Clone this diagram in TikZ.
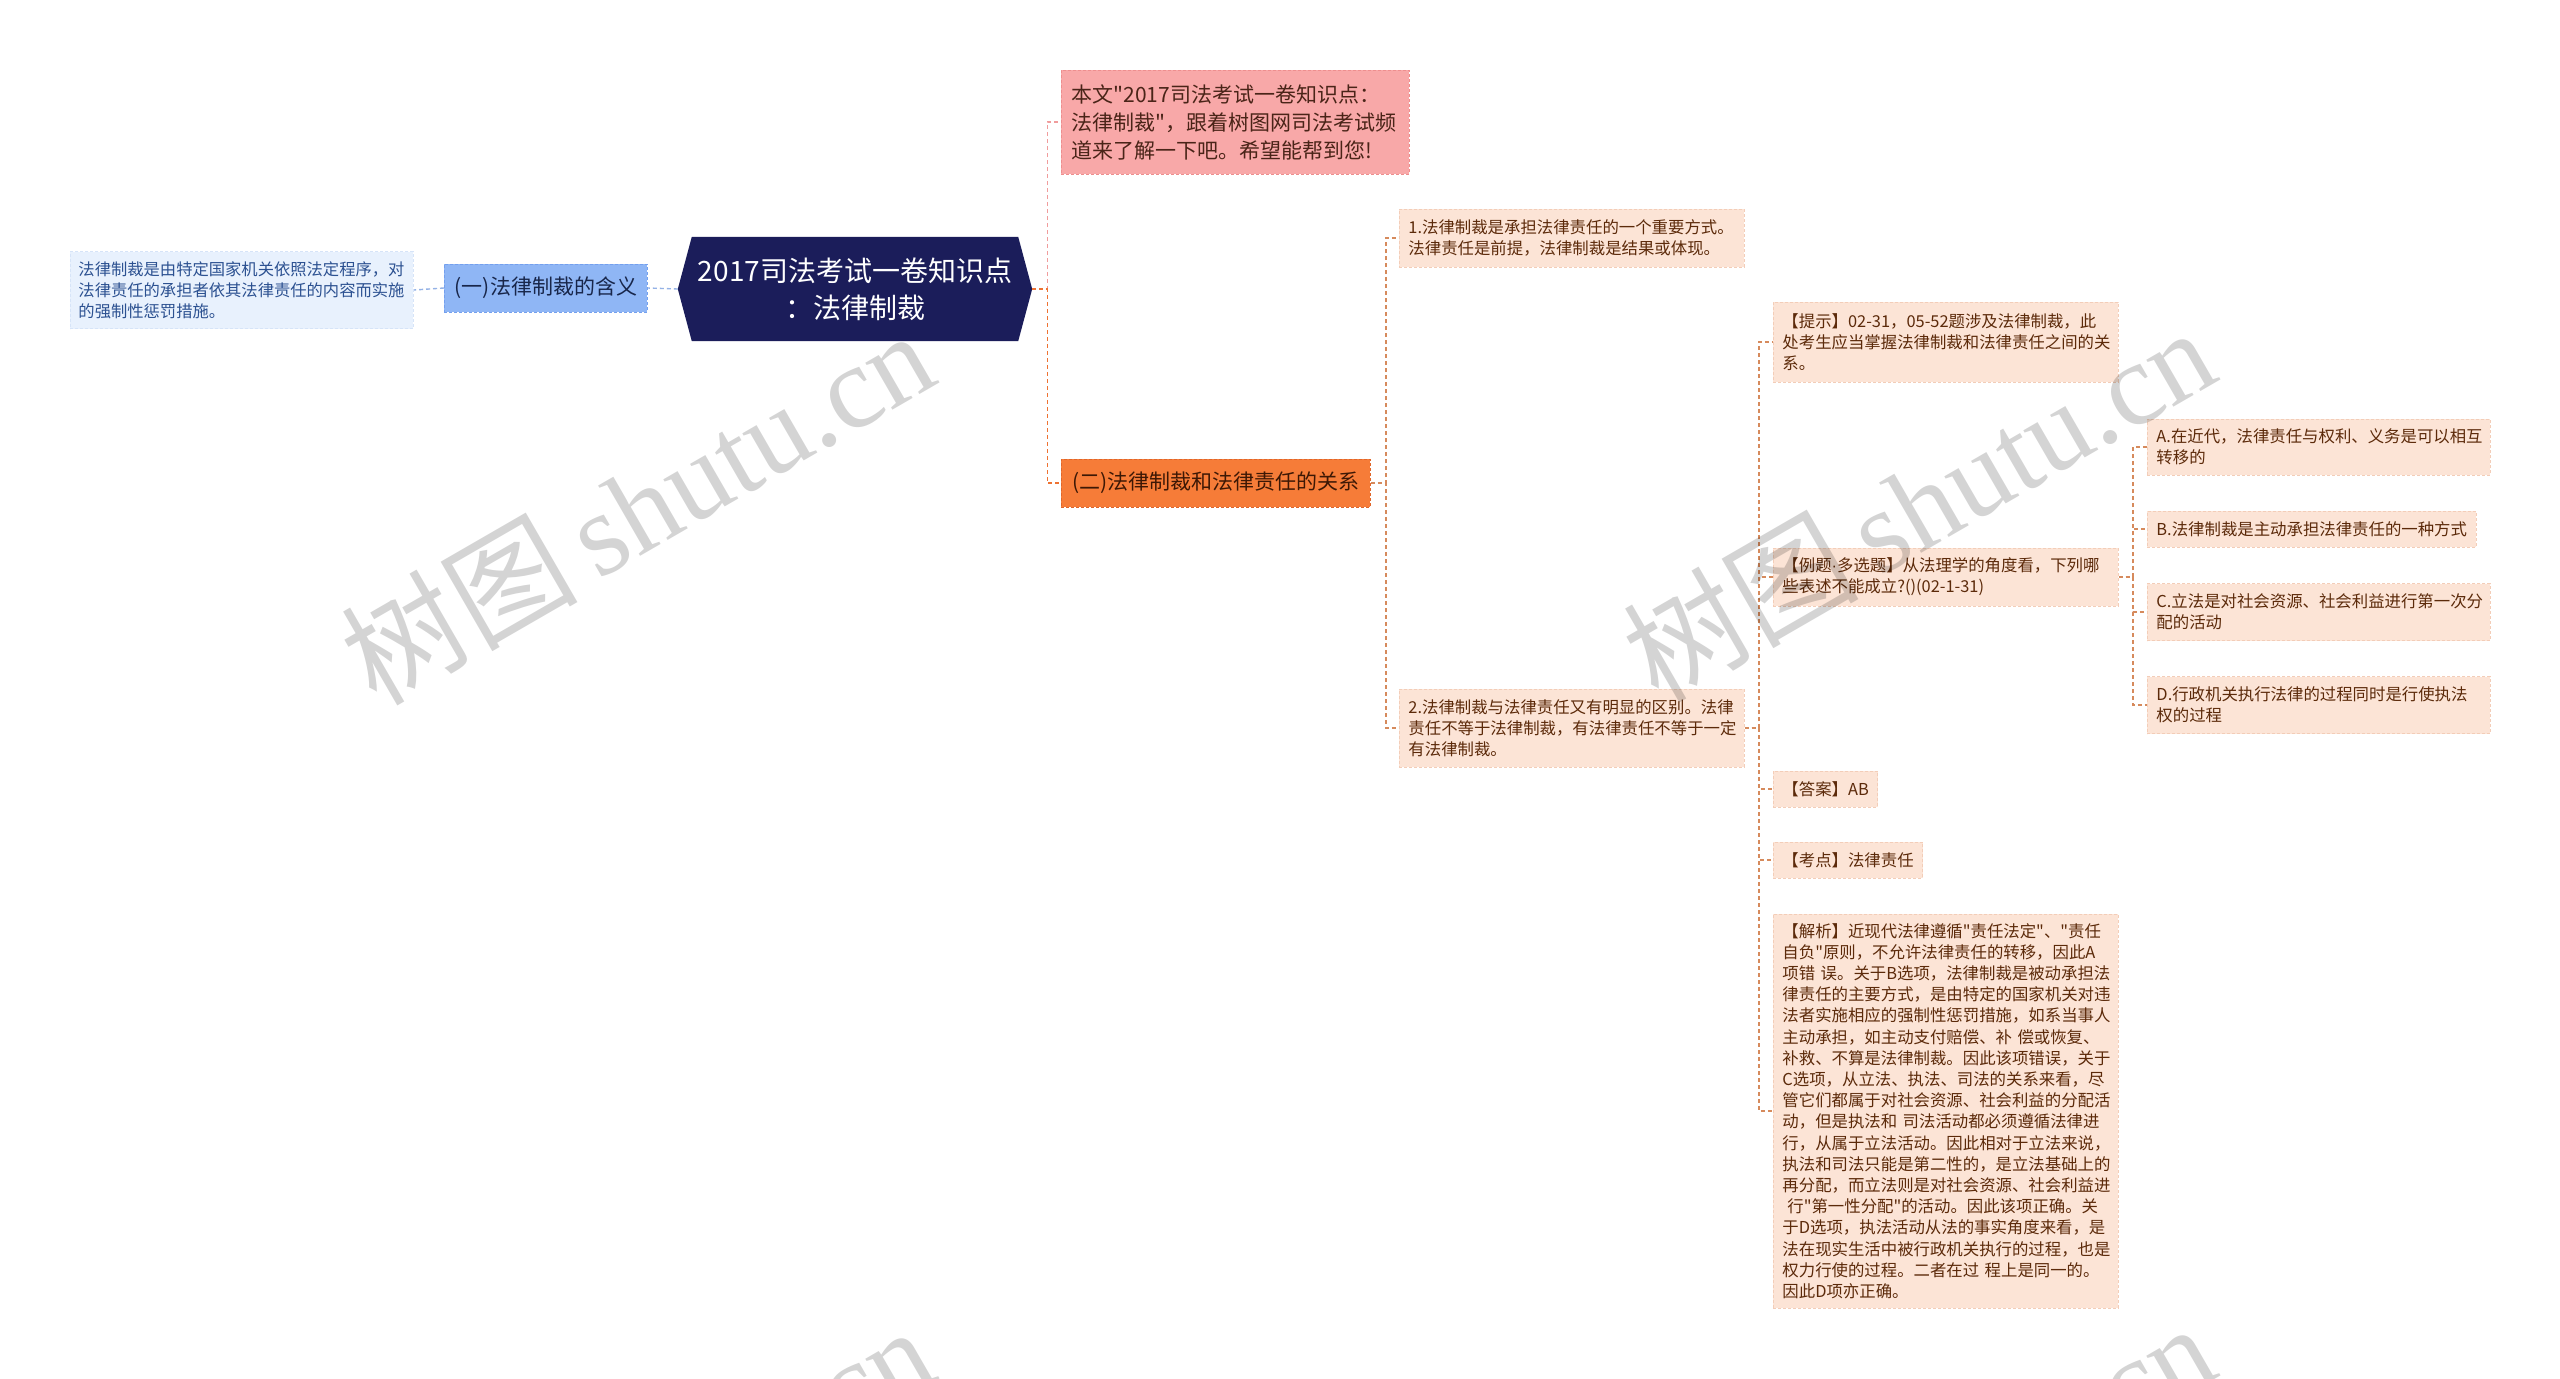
\documentclass[tikz,border=0pt]{standalone}
\usepackage{fontspec}
\setmainfont{Noto Sans CJK SC}
\newfontfamily\cjk{Noto Sans CJK SC}[Ligatures=TeXOff]
\newfontfamily\wmlatin{Liberation Serif}
\newfontfamily\lsans{Liberation Sans}
\usetikzlibrary{calc,backgrounds}
\definecolor{navyF}{HTML}{1B1D5A}
\definecolor{peachF}{HTML}{FCE4D6}
\definecolor{peachD}{HTML}{F3CDB8}
\definecolor{peachT}{HTML}{5C2A0A}
\definecolor{pinkF}{HTML}{F8A8A8}
\definecolor{pinkD}{HTML}{EE8E8E}
\definecolor{pinkT}{HTML}{4A2418}
\definecolor{orangeF}{HTML}{F67C38}
\definecolor{orangeD}{HTML}{E0662A}
\definecolor{orangeT}{HTML}{3D1805}
\definecolor{blueF}{HTML}{8FB6F5}
\definecolor{blueD}{HTML}{74A0EE}
\definecolor{blueT}{HTML}{18264A}
\definecolor{lblueF}{HTML}{E8F1FD}
\definecolor{lblueD}{HTML}{D6E4F8}
\definecolor{lblueT}{HTML}{2C5191}
\definecolor{cBlue}{HTML}{94B2E6}
\definecolor{cPink}{HTML}{F09C9C}
\definecolor{cOrange}{HTML}{EE7232}
\definecolor{cTan}{HTML}{D68A5C}
\tikzset{
  box/.style={draw, dash pattern=on 3pt off 2pt, line width=0.9pt, align=left, anchor=west, inner ysep=0pt},
  peach/.style={box, fill=peachF, draw=peachD, text=peachT, inner xsep=9pt, font=\cjk\fontsize{16.4}{21.2}\selectfont},
  peachw/.style={peach, text width=327pt},
  pinkbox/.style={box, fill=pinkF, draw=pinkD, text=pinkT, inner xsep=10pt, text width=328pt, font=\cjk\fontsize{21}{28}\selectfont},
  orangebox/.style={box, fill=orangeF, draw=orangeD, text=orangeT, inner xsep=8pt, align=center, font=\cjk\fontsize{21}{28}\selectfont},
  bluebox/.style={box, fill=blueF, draw=blueD, text=blueT, inner xsep=6pt, align=center, font=\cjk\fontsize{21}{28}\selectfont},
  lbluebox/.style={box, fill=lblueF, draw=lblueD, text=lblueT, inner xsep=8pt, text width=327pt, font=\cjk\fontsize{16.3}{21}\selectfont},
  rootbox/.style={text=white, align=center, inner sep=0pt, font=\cjk\fontsize{28}{37}\selectfont},
  conn/.style={line width=1.4pt, dash pattern=on 4pt off 3pt},
  wm/.style={text=black, text opacity=0.17, rotate=30, inner sep=0pt, font=\cjk\fontsize{118}{118}\selectfont}
}
\begin{document}
\begin{tikzpicture}[x=1pt,y=-1pt]
\useasboundingbox (0,0) rectangle (2560,1379);
\begin{scope}[on background layer]
\fill[white] (0,0) rectangle (2560,1379);
\end{scope}

% root
\node[rootbox, minimum width=354pt, minimum height=104pt] (root) at (855,289) {2017司法考试一卷知识点\\：法律制裁};
\begin{scope}[on background layer]
\fill[navyF] (root.west) -- ([xshift=14pt]root.north west) -- ([xshift=-14pt]root.north east) -- (root.east) -- ([xshift=-14pt]root.south east) -- ([xshift=14pt]root.south west) -- cycle;
\end{scope}

% left branch
\node[bluebox, minimum width=203pt, minimum height=48pt] (yi) at (444,288) {(一)法律制裁的含义};
\node[lbluebox, minimum height=77pt] (left) at (70,290) {法律制裁是由特定国家机关依照法定程序，对\\法律责任的承担者依其法律责任的内容而实施\\的强制性惩罚措施。};

% right level 1
\node[pinkbox, minimum height=104pt] (pink) at (1061,122) {本文"2017司法考试一卷知识点：\\法律制裁"，跟着树图网司法考试频\\道来了解一下吧。希望能帮到您!};
\node[orangebox, minimum width=309pt, minimum height=48pt] (er) at (1061,483) {(二)法律制裁和法律责任的关系};

% level 2
\node[peachw, minimum height=58pt] (n1) at (1399,238) {1.法律制裁是承担法律责任的一个重要方式。\\法律责任是前提，法律制裁是结果或体现。};
\node[peachw, minimum height=78pt] (n2) at (1399,728) {2.法律制裁与法律责任又有明显的区别。法律\\责任不等于法律制裁，有法律责任不等于一定\\有法律制裁。};

% level 3
\node[peachw, minimum height=80pt] (tishi) at (1773,342) {【提示】02-31，05-52题涉及法律制裁，此\\处考生应当掌握法律制裁和法律责任之间的关\\系。};
\node[peachw, minimum height=58pt] (liti) at (1773,577) {【例题{\lsans ·}多选题】从法理学的角度看，下列哪\\些表述不能成立?()(02-1-31)};
\node[peach, minimum width=104pt, minimum height=36pt] (daan) at (1773,789) {【答案】AB};
\node[peach, minimum width=148pt, minimum height=36pt] (kaodian) at (1773,860) {【考点】法律责任};
\node[peachw, minimum height=394pt] (jiexi) at (1773,1111) {【解析】近现代法律遵循"责任法定"、"责任\\自负"原则，不允许法律责任的转移，因此A\\项错 误。关于B选项，法律制裁是被动承担法\\律责任的主要方式，是由特定的国家机关对违\\法者实施相应的强制性惩罚措施，如系当事人\\主动承担，如主动支付赔偿、补 偿或恢复、\\补救、不算是法律制裁。因此该项错误，关于\\C选项，从立法、执法、司法的关系来看，尽\\管它们都属于对社会资源、社会利益的分配活\\动，但是执法和 司法活动都必须遵循法律进\\行，从属于立法活动。因此相对于立法来说，\\执法和司法只能是第二性的，是立法基础上的\\再分配，而立法则是对社会资源、社会利益进\\\hspace*{0.3em}行"第一性分配"的活动。因此该项正确。关\\于D选项，执法活动从法的事实角度来看，是\\法在现实生活中被行政机关执行的过程，也是\\权力行使的过程。二者在过 程上是同一的。\\因此D项亦正确。};

% level 4
\node[peach, text width=325pt, minimum height=56pt] (oa) at (2147,447) {A.在近代，法律责任与权利、义务是可以相互\\转移的};
\node[peach, minimum width=323pt, minimum height=36pt] (ob) at (2147,529) {B.法律制裁是主动承担法律责任的一种方式};
\node[peach, text width=325pt, minimum height=57pt] (oc) at (2147,612) {C.立法是对社会资源、社会利益进行第一次分\\配的活动};
\node[peach, text width=325pt, minimum height=57pt] (od) at (2147,705) {D.行政机关执行法律的过程同时是行使执法\\权的过程};

% connectors
\begin{scope}[on background layer]
\draw[conn, cBlue] (root.west) -- (yi.east);
\draw[conn, cBlue] (yi.west) -- (left.east);
\draw[conn, cPink] (root.east) -- ++(15,0) |- (pink.west);
\draw[conn, cOrange] (root.east) -- ++(15,0) |- (er.west);
\draw[conn, cTan] (er.east) -- ++(15,0) |- (n1.west);
\draw[conn, cTan] (er.east) -- ++(15,0) |- (n2.west);
\foreach \c in {tishi,liti,daan,kaodian,jiexi}
  \draw[conn, cTan] (n2.east) -- ++(14,0) |- (\c.west);
\foreach \c in {oa,ob,oc,od}
  \draw[conn, cTan] (liti.east) -- ++(14,0) |- (\c.west);
\end{scope}

% watermarks
\begin{scope}
\clip (0,0) rectangle (2560,1379);
\node[wm] (wm1) at (637,506) {树图\,{\wmlatin shutu.cn}};
\node[wm] (wm2) at (1918,503) {树图\,{\wmlatin shutu.cn}};
\node[wm] (wm3) at (637,1502) {树图\,{\wmlatin shutu.cn}};
\node[wm] (wm4) at (1918,1499) {树图\,{\wmlatin shutu.cn}};
\end{scope}
\end{tikzpicture}
\end{document}
